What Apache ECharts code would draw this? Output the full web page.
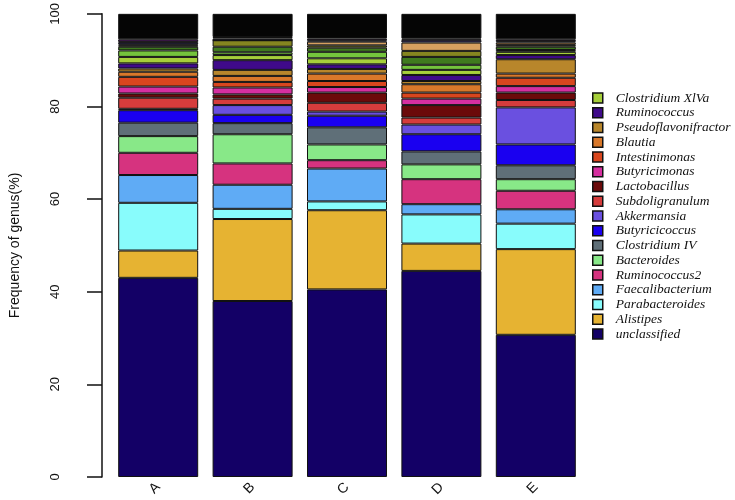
<!DOCTYPE html>
<html>
<head>
<meta charset="utf-8">
<script src="https://cdn.jsdelivr.net/npm/echarts@6/dist/echarts.min.js"></script>
<style>html,body{margin:0;padding:0;background:#fff}#c{width:735px;height:500px}</style>
</head>
<body>
<div id="c"></div>
<script>
const categories = ['A', 'B', 'C', 'D', 'E'];
const yTicks = [0, 20, 40, 60, 80, 100];

// Bottom-to-top stack order (legend genera)
const unclassified        = [43.0, 38.0, 40.5, 44.5, 30.7];
const alistipes           = [5.9, 17.7, 17.1, 5.9, 18.5];
const parabacteroides     = [10.3, 2.2, 1.9, 6.3, 5.5];
const faecalibacterium    = [6.0, 5.2, 7.1, 2.2, 3.1];
const ruminococcus2       = [4.8, 4.6, 1.8, 5.4, 4.0];
const bacteroides         = [3.6, 6.3, 3.4, 3.2, 2.5];
const clostridiumIV       = [2.9, 2.4, 3.7, 2.8, 3.0];
const butyricicoccus      = [2.7, 1.8, 2.5, 3.7, 4.5];
const akkermansia         = [0.3, 2.1, 0.9, 2.1, 8.0];
const subdoligranulum     = [2.4, 1.4, 1.9, 1.5, 1.6];
const lactobacillus       = [0.9, 0.9, 2.2, 2.7, 1.6];
const butyricimonas       = [1.5, 1.5, 1.2, 1.4, 1.4];
const intestinimonas      = [2.1, 1.2, 1.3, 1.3, 1.8];
const blautia             = [1.1, 1.3, 1.6, 1.8, 0.9];
const pseudoflavonifractor= [0.7, 1.3, 1.0, 0.7, 3.1];
const ruminococcus        = [1.1, 2.1, 1.0, 1.3, 0.9];
const clostridiumXlVa     = [1.4, 1.1, 1.3, 1.1, 0.7];
// minor genera (not in legend)
const minorBrightGreen    = [1.4, 0.6, 1.4, 1.1, 0.4];
const minorDarkGreen      = [0.8, 1.2, 0.9, 1.7, 0.7];
const minorOlive          = [0.3, 1.4, 0.5, 1.3, 0.4];
const minorTan            = [0.2, 0.0, 0.8, 1.8, 0.5];
const minorSlate          = [0.5, 0.4, 0.3, 0.6, 0.3];
const minorPurple         = [0.6, 0.3, 0.4, 0.3, 0.4];

const genusNames = ['unclassified','Alistipes','Parabacteroides','Faecalibacterium','Ruminococcus2','Bacteroides','Clostridium IV','Butyricicoccus','Akkermansia','Subdoligranulum','Lactobacillus','Butyricimonas','Intestinimonas','Blautia','Pseudoflavonifractor','Ruminococcus','Clostridium XlVa'];
const genusValues = [unclassified,alistipes,parabacteroides,faecalibacterium,ruminococcus2,bacteroides,clostridiumIV,butyricicoccus,akkermansia,subdoligranulum,lactobacillus,butyricimonas,intestinimonas,blautia,pseudoflavonifractor,ruminococcus,clostridiumXlVa];
const genusColors = ['#130066','#e6b332','#88fcfc','#5fabf5','#d6337f','#88e888','#5f6f78','#1a00f0','#6a50e0','#d63c3c','#6b0a0a','#d62fa0','#d9461e','#d9782a','#b8862b','#3f0a8a','#a6cf3a'];

const minorNames = ['m1','m2','m3','m4','m5','m6'];
const minorValues = [minorBrightGreen, minorDarkGreen, minorOlive, minorTan, minorSlate, minorPurple];
const minorColors = ['#74c43c','#3f7a1e','#858520','#d6a060','#3a3060','#4a1a5a'];

const series = [];
const mk = (name, data, color) => ({
  name, type: 'bar', stack: 'g', data, barWidth: 80,
  itemStyle: { color, borderColor: '#111', borderWidth: 1 },
  emphasis: { disabled: true }
});
genusNames.forEach((n, i) => series.push(mk(n, genusValues[i], genusColors[i])));
minorNames.forEach((n, i) => series.push(mk(n, minorValues[i], minorColors[i])));
// remainder (black, many tiny genera)
const rest = categories.map((_, j) => {
  let s = 0;
  genusValues.forEach(a => s += a[j]);
  minorValues.forEach(a => s += a[j]);
  return +(100 - s).toFixed(2);
});
series.push(mk('rest', rest, '#050505'));

const chart = echarts.init(document.getElementById('c'), null, { renderer: 'canvas' });
chart.setOption({
  animation: false,
  backgroundColor: '#fff',
  grid: { left: 106, right: 152, top: 13, bottom: 23, containLabel: false },
  xAxis: {
    type: 'category', data: categories,
    axisLine: { show: false }, axisTick: { show: false },
    axisLabel: { rotate: 45, margin: 8, fontSize: 14, color: '#111', fontFamily: 'Liberation Sans' }
  },
  yAxis: {
    type: 'value', min: 0, max: 100, interval: 20, offset: 9,
    name: 'Frequency of genus(%)', nameLocation: 'middle', nameGap: 80, nameRotate: 90,
    nameTextStyle: { fontSize: 14, color: '#111', fontFamily: 'Liberation Sans' },
    axisLine: { show: true, lineStyle: { color: '#111', width: 1.5 } },
    axisTick: { show: true, length: 15, lineStyle: { color: '#111', width: 1.5 } },
    axisLabel: { rotate: 90, margin: 40, fontSize: 13, color: '#111', fontFamily: 'Liberation Sans',
      formatter: v => yTicks.includes(v) ? String(v) : '' },
    splitLine: { show: false }
  },
  legend: {
    orient: 'vertical', left: 587, top: 86,
    data: genusNames.slice().reverse(),
    itemWidth: 10, itemHeight: 10, itemGap: 0.75,
    icon: 'rect',
    itemStyle: { borderColor: '#111', borderWidth: 1.5 },
    textStyle: { fontSize: 13.5, fontStyle: 'italic', fontFamily: 'Liberation Serif', color: '#111', lineHeight: 14, padding: [0,0,0,8] }
  },
  series
});
</script>
</body>
</html>
